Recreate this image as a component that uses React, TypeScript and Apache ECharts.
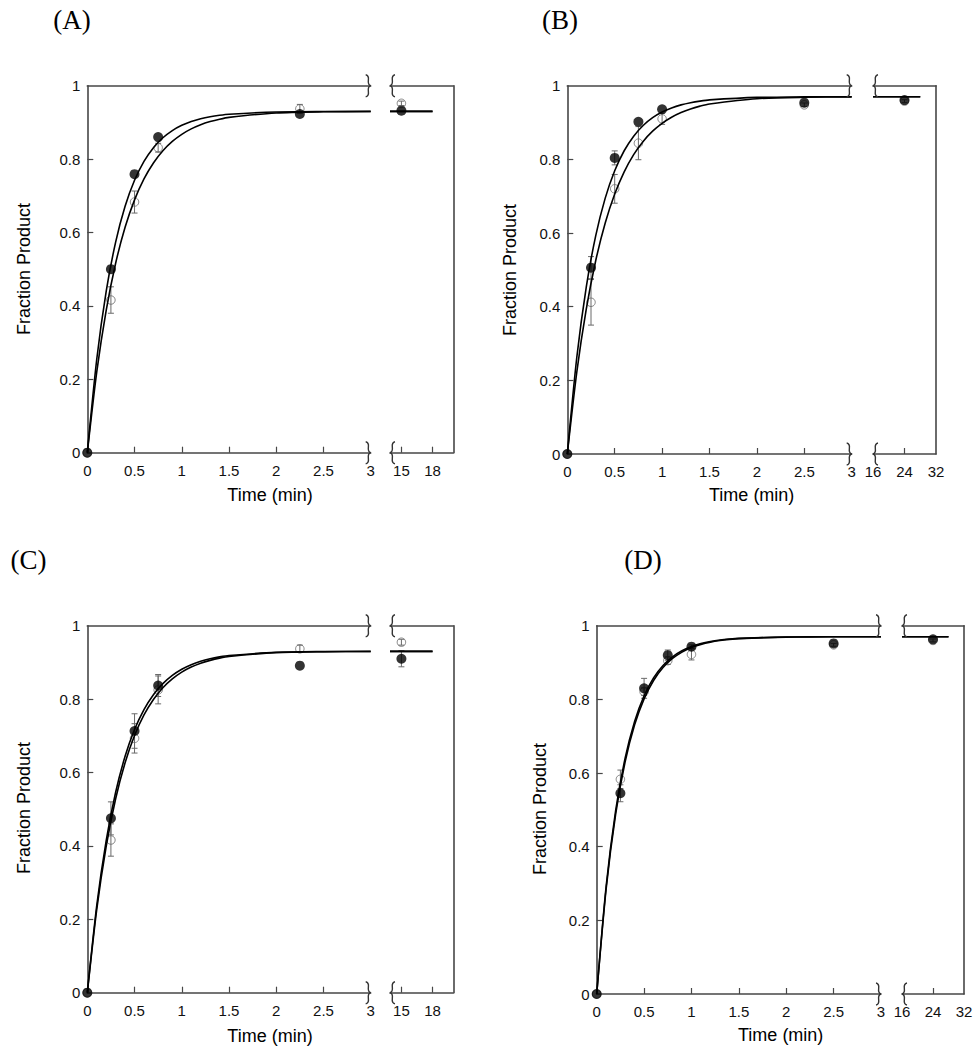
import React, { useEffect, useRef } from "react";
import * as echarts from "echarts";

// ---------------- data ----------------
const fitTimes = [0, 0.1, 0.2, 0.3, 0.4, 0.5, 0.6, 0.7, 0.8, 0.9, 1.0, 1.1, 1.2, 1.3, 1.4, 1.5, 2.0, 2.5, 3.0];

// Panel A
const aTimes = [0, 0.25, 0.5, 0.75, 2.25, 15];
const aFilled = [0, 0.5, 0.759, 0.86, 0.923, 0.932];
const aFilledErr = [0, 0, 0, 0, 0, 0];
const aOpen = [0, 0.416, 0.683, 0.831, 0.937, 0.952];
const aOpenErr = [0, 0.036, 0.03, 0.012, 0.012, 0.006];
const aFitFilled = [0, 0.2547, 0.4396, 0.5739, 0.6715, 0.7422, 0.7937, 0.831, 0.8581, 0.8778, 0.8921, 0.9025, 0.91, 0.9155, 0.9195, 0.9224, 0.9284, 0.9297, 0.93];
const aFitOpen = [0, 0.22, 0.3881, 0.5162, 0.6142, 0.6889, 0.746, 0.7895, 0.8228, 0.8482, 0.8675, 0.8823, 0.8936, 0.9022, 0.9088, 0.9138, 0.9258, 0.9289, 0.9297];
const aLateFitTimes = [13.9, 18];
const aLateFitFilled = [0.93, 0.93];
const aLateFitOpen = [0.93, 0.93];

// Panel B
const bTimes = [0, 0.25, 0.5, 0.75, 1, 2.5, 24];
const bFilled = [0, 0.506, 0.804, 0.902, 0.936, 0.954, 0.961];
const bFilledErr = [0, 0.03, 0.019, 0, 0, 0, 0];
const bOpen = [0, 0.412, 0.72, 0.844, 0.91, 0.948, 0.958];
const bOpenErr = [0, 0.062, 0.039, 0.045, 0.015, 0.005, 0.004];
const bFitFilled = [0, 0.2621, 0.4534, 0.593, 0.6948, 0.7692, 0.8234, 0.863, 0.8919, 0.9131, 0.9284, 0.9396, 0.9479, 0.9538, 0.9582, 0.9614, 0.9682, 0.9696, 0.97];
const bFitOpen = [0, 0.222, 0.3933, 0.5253, 0.6271, 0.7057, 0.7662, 0.8129, 0.8488, 0.8766, 0.8979, 0.9144, 0.9271, 0.937, 0.9445, 0.9504, 0.9647, 0.9685, 0.9696];
const bLateFitTimes = [16, 28];
const bLateFitFilled = [0.97, 0.97];
const bLateFitOpen = [0.97, 0.97];

// Panel C
const cTimes = [0, 0.25, 0.5, 0.75, 2.25, 15];
const cFilled = [0, 0.475, 0.713, 0.837, 0.891, 0.91];
const cFilledErr = [0, 0.045, 0.047, 0.03, 0, 0.022];
const cOpen = [0, 0.416, 0.693, 0.825, 0.937, 0.955];
const cOpenErr = [0, 0.044, 0.04, 0.038, 0.01, 0.008];
const cFitFilled = [0, 0.2376, 0.4145, 0.5462, 0.6442, 0.7172, 0.7716, 0.8121, 0.8422, 0.8646, 0.8814, 0.8937, 0.903, 0.9099, 0.915, 0.9188, 0.9275, 0.9294, 0.9299];
const cFitOpen = [0, 0.2271, 0.3988, 0.5285, 0.6265, 0.7007, 0.7567, 0.799, 0.831, 0.8551, 0.8735, 0.8872, 0.8977, 0.9055, 0.9116, 0.9161, 0.9266, 0.9292, 0.93];
const cLateFitTimes = [13.9, 18];
const cLateFitFilled = [0.93, 0.93];
const cLateFitOpen = [0.93, 0.93];

// Panel D
const dTimes = [0, 0.25, 0.5, 0.75, 1, 2.5, 24];
const dFilled = [0, 0.545, 0.83, 0.92, 0.943, 0.952, 0.963];
const dFilledErr = [0, 0.023, 0.027, 0.014, 0.005, 0, 0];
const dOpen = [0, 0.583, 0.821, 0.905, 0.922, 0.948, 0.96];
const dOpenErr = [0, 0.025, 0.01, 0.01, 0.015, 0.004, 0.004];
const dFitFilled = [0, 0.2932, 0.4978, 0.6406, 0.7402, 0.8097, 0.8582, 0.8919, 0.9156, 0.932, 0.9435, 0.9515, 0.9571, 0.961, 0.9637, 0.9656, 0.9693, 0.9699, 0.97];
const dFitOpen = [0, 0.2864, 0.4883, 0.6306, 0.7308, 0.8014, 0.8512, 0.8863, 0.911, 0.9284, 0.9407, 0.9493, 0.9554, 0.9597, 0.9628, 0.965, 0.9691, 0.9699, 0.97];
const dLateFitTimes = [16, 28];
const dLateFitFilled = [0.97, 0.97];
const dLateFitOpen = [0.97, 0.97];

// tick labels
const seg1TickLabels = [0, 0.5, 1, 1.5, 2, 2.5, 3];
const seg1TickMarks = [0.5, 1, 1.5, 2, 2.5];
const yTickLabels = [0, 0.2, 0.4, 0.6, 0.8, 1];
const yTickMarks = [0.2, 0.4, 0.6, 0.8];
const acSeg2Labels = [15, 18];
const acSeg2Ticks = [15, 18];
const bdSeg2Labels = [16, 24, 32];
const bdSeg2Ticks = [24];

const panelTitles = ["(A)", "(B)", "(C)", "(D)"];
const yTitle = "Fraction Product";
const xTitle = "Time (min)";

const panels = [
  { times: aTimes, filled: aFilled, filledErr: aFilledErr, open: aOpen, openErr: aOpenErr, fitFilled: aFitFilled, fitOpen: aFitOpen, lateT: aLateFitTimes, lateF: aLateFitFilled, lateO: aLateFitOpen, seg2Labels: acSeg2Labels, seg2Ticks: acSeg2Ticks },
  { times: bTimes, filled: bFilled, filledErr: bFilledErr, open: bOpen, openErr: bOpenErr, fitFilled: bFitFilled, fitOpen: bFitOpen, lateT: bLateFitTimes, lateF: bLateFitFilled, lateO: bLateFitOpen, seg2Labels: bdSeg2Labels, seg2Ticks: bdSeg2Ticks },
  { times: cTimes, filled: cFilled, filledErr: cFilledErr, open: cOpen, openErr: cOpenErr, fitFilled: cFitFilled, fitOpen: cFitOpen, lateT: cLateFitTimes, lateF: cLateFitFilled, lateO: cLateFitOpen, seg2Labels: acSeg2Labels, seg2Ticks: acSeg2Ticks },
  { times: dTimes, filled: dFilled, filledErr: dFilledErr, open: dOpen, openErr: dOpenErr, fitFilled: dFitFilled, fitOpen: dFitOpen, lateT: dLateFitTimes, lateF: dLateFitFilled, lateO: dLateFitOpen, seg2Labels: bdSeg2Labels, seg2Ticks: bdSeg2Ticks },
];

// ---------------- layout (page pixels) ----------------
const layouts = [
  { g1: { left: 87.3, top: 85.7, width: 283.4, height: 367 }, g2: { left: 390, top: 85.7, width: 63.3, height: 367 }, seg2: [13.9, 20], label: [72, 20], yT: [24, 269], xT: [270, 495] },
  { g1: { left: 567.3, top: 85.7, width: 284.4, height: 368.3 }, g2: { left: 873, top: 85.7, width: 63, height: 368.3 }, seg2: [16, 32], label: [560, 20], yT: [509.7, 270], xT: [751.7, 495] },
  { g1: { left: 87.3, top: 625.7, width: 283.4, height: 367 }, g2: { left: 390, top: 625.7, width: 63.3, height: 367 }, seg2: [13.9, 20], label: [28.5, 560], yT: [24, 808], xT: [270, 1036] },
  { g1: { left: 596.7, top: 625.7, width: 284.3, height: 368.3 }, g2: { left: 902, top: 625.7, width: 62, height: 368.3 }, seg2: [16, 32], label: [643, 560], yT: [540, 809], xT: [780.7, 1035] },
];

const SANS = "'Liberation Sans', Arial, sans-serif";
const SERIF = "'Liberation Serif', 'Times New Roman', serif";
const AXIS_COLOR = "#474747";
const AXIS_W = 1.6;
const GRAY = "#6a6a6a";

function buildOption() {
  const grid: any[] = [];
  const xAxis: any[] = [];
  const yAxis: any[] = [];
  const series: any[] = [];
  const line = { show: true, onZero: false, lineStyle: { color: AXIS_COLOR, width: AXIS_W } };
  const lbl = { color: "#111", fontFamily: SANS, fontSize: 15, showMinLabel: true, showMaxLabel: true };
  const tick = { show: true, inside: true, length: 6, lineStyle: { color: AXIS_COLOR, width: 1.2 } };
  const none = { show: false };

  panels.forEach((p, i) => {
    const L = layouts[i];
    grid.push({ ...L.g1, containLabel: false, outerBoundsMode: "none" });
    grid.push({ ...L.g2, containLabel: false, outerBoundsMode: "none" });

    xAxis.push({ type: "value", gridIndex: 2 * i, position: "bottom", min: 0, max: 3, interval: 0.5, axisLine: line, axisTick: { ...tick, customValues: seg1TickMarks }, axisLabel: { ...lbl, margin: 10, customValues: seg1TickLabels }, splitLine: none });
    xAxis.push({ type: "value", gridIndex: 2 * i, position: "top", min: 0, max: 3, axisLine: line, axisTick: none, axisLabel: none, splitLine: none });
    xAxis.push({ type: "value", gridIndex: 2 * i + 1, position: "bottom", min: L.seg2[0], max: L.seg2[1], axisLine: line, axisTick: { ...tick, customValues: p.seg2Ticks }, axisLabel: { ...lbl, margin: 10, customValues: p.seg2Labels }, splitLine: none });
    xAxis.push({ type: "value", gridIndex: 2 * i + 1, position: "top", min: L.seg2[0], max: L.seg2[1], axisLine: line, axisTick: none, axisLabel: none, splitLine: none });

    yAxis.push({ type: "value", gridIndex: 2 * i, position: "left", min: 0, max: 1, interval: 0.2, axisLine: line, axisTick: { ...tick, customValues: yTickMarks }, axisLabel: { ...lbl, margin: 7, customValues: yTickLabels }, splitLine: none });
    yAxis.push({ type: "value", gridIndex: 2 * i + 1, position: "right", min: 0, max: 1, axisLine: line, axisTick: none, axisLabel: none, splitLine: none });

    const segs = [
      { xi: 4 * i, yi: 2 * i, pick: (t: number) => t <= 3, fitT: fitTimes, fitF: p.fitFilled, fitO: p.fitOpen, smooth: true },
      { xi: 4 * i + 2, yi: 2 * i + 1, pick: (t: number) => t > 3, fitT: p.lateT, fitF: p.lateF, fitO: p.lateO, smooth: false },
    ];
    segs.forEach((s) => {
      const common = { xAxisIndex: s.xi, yAxisIndex: s.yi, silent: true, clip: false, animation: false };
      [s.fitF, s.fitO].forEach((vals) => {
        series.push({
          ...common, type: "line", smooth: s.smooth ? 0.25 : false, showSymbol: false, symbol: "none",
          lineStyle: { color: "#000", width: 1.6 },
          data: s.fitT.map((t, k) => [t, vals[k]]),
        });
      });
      const idx = p.times.map((t, k) => k).filter((k) => s.pick(p.times[k]));
      series.push({
        ...common, type: "scatter", symbol: "circle", symbolSize: 8.5,
        itemStyle: { color: "rgba(255,255,255,0)", borderColor: GRAY, borderWidth: 1 },
        data: idx.map((k) => [p.times[k], p.open[k]]),
      });
      const errData: number[][] = [];
      idx.forEach((k) => {
        if (p.openErr[k] > 0) errData.push([p.times[k], p.open[k] - p.openErr[k], p.open[k] + p.openErr[k]]);
        if (p.filledErr[k] > 0) errData.push([p.times[k], p.filled[k] - p.filledErr[k], p.filled[k] + p.filledErr[k]]);
      });
      series.push({
        ...common, type: "custom", coordinateSystem: "cartesian2d",
        encode: { x: 0, y: [1, 2] },
        data: errData,
        renderItem: (params: any, api: any) => {
          const x = api.value(0);
          const lo = api.coord([x, api.value(1)]);
          const hi = api.coord([x, api.value(2)]);
          const w = 3;
          const st = { stroke: GRAY, lineWidth: 1 };
          return {
            type: "group",
            children: [
              { type: "line", shape: { x1: lo[0], y1: lo[1], x2: hi[0], y2: hi[1] }, style: st },
              { type: "line", shape: { x1: lo[0] - w, y1: lo[1], x2: lo[0] + w, y2: lo[1] }, style: st },
              { type: "line", shape: { x1: hi[0] - w, y1: hi[1], x2: hi[0] + w, y2: hi[1] }, style: st },
            ],
          };
        },
      });
      series.push({
        ...common, type: "scatter", symbol: "circle", symbolSize: 10,
        itemStyle: { color: "#000" },
        data: idx.map((k) => [p.times[k], p.filled[k]]),
      });
    });
  });

  return { animation: false, backgroundColor: "#fff", grid, xAxis, yAxis, series };
}

function squiggle(x: number, y: number, dir: number) {
  // dir = 1: "}" with tip pointing right at (x,y); dir = -1: "{" with tip pointing left
  const h = 11;
  const a = 5 * dir;
  const st = { stroke: "#333", lineWidth: 1.4, fill: null };
  return [
    { type: "bezierCurve", silent: true, z: 100, shape: { x1: x - a, y1: y - h, cpx1: x + 0.3 * a, cpy1: y - h * 0.9, cpx2: x - 1.2 * a, cpy2: y - h * 0.15, x2: x, y2: y }, style: st },
    { type: "bezierCurve", silent: true, z: 100, shape: { x1: x, y1: y, cpx1: x - 1.2 * a, cpy1: y + h * 0.15, cpx2: x + 0.3 * a, cpy2: y + h * 0.9, x2: x - a, y2: y + h }, style: st },
  ];
}

export default function App() {
  const ref = useRef<HTMLDivElement>(null);
  useEffect(() => {
    if (!ref.current) return;
    const chart = echarts.init(ref.current, null, { renderer: "svg" });
    chart.setOption(buildOption());
    const graphic: any[] = [];
    panels.forEach((p, i) => {
      const L = layouts[i];
      const s1Top = chart.convertToPixel({ xAxisIndex: 4 * i, yAxisIndex: 2 * i } as any, [3, 1]) as number[];
      const s1Bot = chart.convertToPixel({ xAxisIndex: 4 * i, yAxisIndex: 2 * i } as any, [3, 0]) as number[];
      const s2Top = chart.convertToPixel({ xAxisIndex: 4 * i + 2, yAxisIndex: 2 * i + 1 } as any, [L.seg2[0], 1]) as number[];
      const s2Bot = chart.convertToPixel({ xAxisIndex: 4 * i + 2, yAxisIndex: 2 * i + 1 } as any, [L.seg2[0], 0]) as number[];
      graphic.push(...squiggle(s1Top[0], s1Top[1], 1), ...squiggle(s1Bot[0], s1Bot[1], 1));
      graphic.push(...squiggle(s2Top[0], s2Top[1], -1), ...squiggle(s2Bot[0], s2Bot[1], -1));
      graphic.push({
        type: "text", x: L.label[0], y: L.label[1], silent: true,
        style: { text: panelTitles[i], font: `27px ${SERIF}`, fill: "#000", align: "center", verticalAlign: "middle", textAlign: "center", textVerticalAlign: "middle" },
      });
      graphic.push({
        type: "text", x: L.yT[0], y: L.yT[1], rotation: Math.PI / 2, silent: true,
        style: { text: yTitle, font: `18px ${SANS}`, fill: "#000", align: "center", verticalAlign: "middle", textAlign: "center", textVerticalAlign: "middle" },
      });
      graphic.push({
        type: "text", x: L.xT[0], y: L.xT[1], silent: true,
        style: { text: xTitle, font: `18px ${SANS}`, fill: "#000", align: "center", verticalAlign: "middle", textAlign: "center", textVerticalAlign: "middle" },
      });
    });
    chart.setOption({ graphic });
    return () => chart.dispose();
  }, []);
  return <div ref={ref} style={{ position: "absolute", left: 0, top: 0, width: 980, height: 1050 }} />;
}
